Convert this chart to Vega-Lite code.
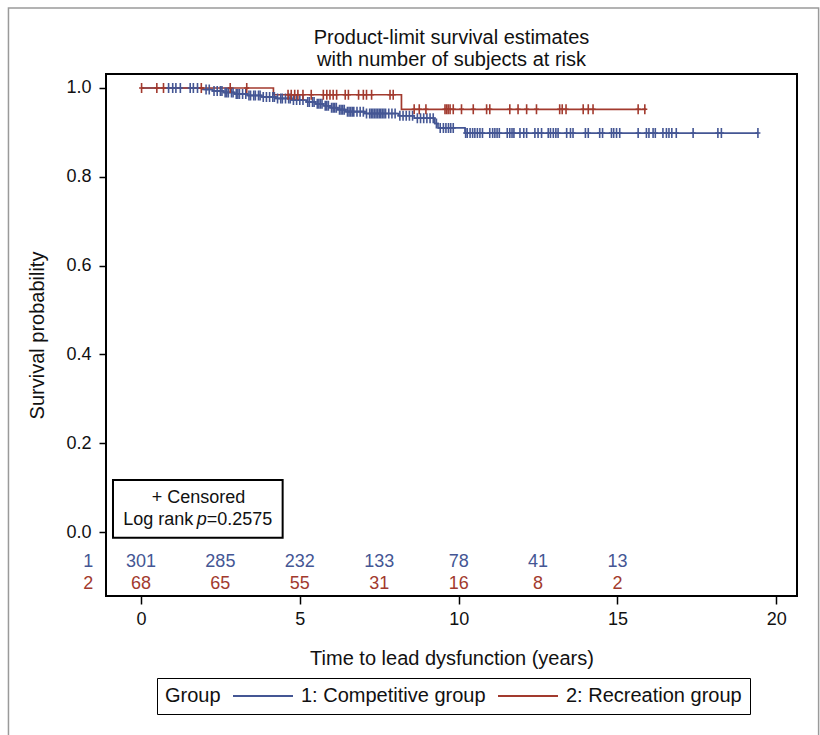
{
  "$schema": "https://vega.github.io/schema/vega-lite/v6.json",
  "width": 691,
  "height": 522,
  "autosize": "none",
  "padding": {"left": 106, "top": 74, "right": 23, "bottom": 139},
  "background": "white",
  "title": {
    "text": ["Product-limit survival estimates", "with number of subjects at risk"],
    "fontSize": 20, "fontWeight": "normal", "font": "Liberation Sans", "color": "#111",
    "offset": 6, "dy": 69, "lineHeight": 22, "anchor": "middle"
  },
  "config": {
    "view": {"stroke": "#000", "strokeWidth": 2},
    "font": "Liberation Sans",
    "axis": {"grid": false, "domain": false, "tickColor": "#000", "tickWidth": 1.5, "labelColor": "#111", "titleColor": "#111", "labelFontSize": 18, "titleFontSize": 20, "titleFontWeight": "normal", "labelFont": "Liberation Sans", "titleFont": "Liberation Sans"}
  },
  "datasets": {
    "steps": [
      {"group": "1: Competitive group", "t": 0, "s": 1},
      {"group": "1: Competitive group", "t": 1.95, "s": 0.9967},
      {"group": "1: Competitive group", "t": 2.25, "s": 0.9933},
      {"group": "1: Competitive group", "t": 2.6, "s": 0.99},
      {"group": "1: Competitive group", "t": 2.95, "s": 0.9866},
      {"group": "1: Competitive group", "t": 3.35, "s": 0.9832},
      {"group": "1: Competitive group", "t": 3.8, "s": 0.9798},
      {"group": "1: Competitive group", "t": 4.25, "s": 0.9764},
      {"group": "1: Competitive group", "t": 4.75, "s": 0.9729},
      {"group": "1: Competitive group", "t": 5.2, "s": 0.9686},
      {"group": "1: Competitive group", "t": 5.5, "s": 0.9643},
      {"group": "1: Competitive group", "t": 5.75, "s": 0.96},
      {"group": "1: Competitive group", "t": 5.95, "s": 0.9556},
      {"group": "1: Competitive group", "t": 6.2, "s": 0.9512},
      {"group": "1: Competitive group", "t": 6.45, "s": 0.9467},
      {"group": "1: Competitive group", "t": 7.05, "s": 0.9425},
      {"group": "1: Competitive group", "t": 8.1, "s": 0.9375},
      {"group": "1: Competitive group", "t": 8.6, "s": 0.932},
      {"group": "1: Competitive group", "t": 9.25, "s": 0.92},
      {"group": "1: Competitive group", "t": 9.35, "s": 0.91},
      {"group": "1: Competitive group", "t": 10.2, "s": 0.8985},
      {"group": "1: Competitive group", "t": 19.42, "s": 0.8985},
      {"group": "2: Recreation group", "t": 0, "s": 1},
      {"group": "2: Recreation group", "t": 4.17, "s": 0.9848},
      {"group": "2: Recreation group", "t": 8.2, "s": 0.952},
      {"group": "2: Recreation group", "t": 15.9, "s": 0.952}
    ],
    "censor": [
      {"g": "1", "t": 0.87, "s": 1}, {"g": "1", "t": 1.0, "s": 1}, {"g": "1", "t": 1.1, "s": 1}, {"g": "1", "t": 1.24, "s": 1}, {"g": "1", "t": 1.55, "s": 1}, {"g": "1", "t": 1.65, "s": 1}, {"g": "1", "t": 1.78, "s": 1},
      {"g": "1", "t": 2.05, "s": 0.9967}, {"g": "1", "t": 2.15, "s": 0.9967},
      {"g": "1", "t": 2.3, "s": 0.9933}, {"g": "1", "t": 2.4, "s": 0.9933}, {"g": "1", "t": 2.5, "s": 0.9933}, {"g": "1", "t": 2.55, "s": 0.9933},
      {"g": "1", "t": 2.65, "s": 0.99}, {"g": "1", "t": 2.7, "s": 0.99}, {"g": "1", "t": 2.75, "s": 0.99}, {"g": "1", "t": 2.85, "s": 0.99}, {"g": "1", "t": 2.9, "s": 0.99},
      {"g": "1", "t": 3.0, "s": 0.9866}, {"g": "1", "t": 3.05, "s": 0.9866}, {"g": "1", "t": 3.1, "s": 0.9866}, {"g": "1", "t": 3.2, "s": 0.9866}, {"g": "1", "t": 3.3, "s": 0.9866},
      {"g": "1", "t": 3.4, "s": 0.9832}, {"g": "1", "t": 3.45, "s": 0.9832}, {"g": "1", "t": 3.55, "s": 0.9832}, {"g": "1", "t": 3.6, "s": 0.9832}, {"g": "1", "t": 3.7, "s": 0.9832}, {"g": "1", "t": 3.75, "s": 0.9832},
      {"g": "1", "t": 3.85, "s": 0.9798}, {"g": "1", "t": 3.95, "s": 0.9798}, {"g": "1", "t": 4.05, "s": 0.9798}, {"g": "1", "t": 4.15, "s": 0.9798}, {"g": "1", "t": 4.2, "s": 0.9798},
      {"g": "1", "t": 4.3, "s": 0.9764}, {"g": "1", "t": 4.4, "s": 0.9764}, {"g": "1", "t": 4.45, "s": 0.9764}, {"g": "1", "t": 4.55, "s": 0.9764}, {"g": "1", "t": 4.65, "s": 0.9764}, {"g": "1", "t": 4.7, "s": 0.9764},
      {"g": "1", "t": 4.8, "s": 0.9729}, {"g": "1", "t": 4.9, "s": 0.9729}, {"g": "1", "t": 5.0, "s": 0.9729}, {"g": "1", "t": 5.1, "s": 0.9729},
      {"g": "1", "t": 5.25, "s": 0.9686}, {"g": "1", "t": 5.3, "s": 0.9686}, {"g": "1", "t": 5.4, "s": 0.9686}, {"g": "1", "t": 5.45, "s": 0.9686},
      {"g": "1", "t": 5.55, "s": 0.9643}, {"g": "1", "t": 5.6, "s": 0.9643}, {"g": "1", "t": 5.65, "s": 0.9643}, {"g": "1", "t": 5.7, "s": 0.9643},
      {"g": "1", "t": 5.8, "s": 0.96}, {"g": "1", "t": 5.85, "s": 0.96}, {"g": "1", "t": 5.9, "s": 0.96},
      {"g": "1", "t": 6.0, "s": 0.9556}, {"g": "1", "t": 6.05, "s": 0.9556}, {"g": "1", "t": 6.1, "s": 0.9556}, {"g": "1", "t": 6.15, "s": 0.9556},
      {"g": "1", "t": 6.25, "s": 0.9512}, {"g": "1", "t": 6.3, "s": 0.9512}, {"g": "1", "t": 6.35, "s": 0.9512}, {"g": "1", "t": 6.4, "s": 0.9512},
      {"g": "1", "t": 6.5, "s": 0.9467}, {"g": "1", "t": 6.55, "s": 0.9467}, {"g": "1", "t": 6.6, "s": 0.9467}, {"g": "1", "t": 6.65, "s": 0.9467}, {"g": "1", "t": 6.7, "s": 0.9467}, {"g": "1", "t": 6.8, "s": 0.9467}, {"g": "1", "t": 6.9, "s": 0.9467}, {"g": "1", "t": 7.0, "s": 0.9467},
      {"g": "1", "t": 7.1, "s": 0.9425}, {"g": "1", "t": 7.2, "s": 0.9425}, {"g": "1", "t": 7.25, "s": 0.9425}, {"g": "1", "t": 7.3, "s": 0.9425}, {"g": "1", "t": 7.35, "s": 0.9425}, {"g": "1", "t": 7.4, "s": 0.9425}, {"g": "1", "t": 7.45, "s": 0.9425}, {"g": "1", "t": 7.5, "s": 0.9425}, {"g": "1", "t": 7.55, "s": 0.9425}, {"g": "1", "t": 7.6, "s": 0.9425}, {"g": "1", "t": 7.65, "s": 0.9425}, {"g": "1", "t": 7.7, "s": 0.9425}, {"g": "1", "t": 7.8, "s": 0.9425}, {"g": "1", "t": 7.9, "s": 0.9425}, {"g": "1", "t": 8.0, "s": 0.9425},
      {"g": "1", "t": 8.15, "s": 0.9375}, {"g": "1", "t": 8.25, "s": 0.9375}, {"g": "1", "t": 8.35, "s": 0.9375}, {"g": "1", "t": 8.45, "s": 0.9375}, {"g": "1", "t": 8.55, "s": 0.9375},
      {"g": "1", "t": 8.7, "s": 0.932}, {"g": "1", "t": 8.8, "s": 0.932}, {"g": "1", "t": 8.9, "s": 0.932}, {"g": "1", "t": 9.0, "s": 0.932}, {"g": "1", "t": 9.1, "s": 0.932}, {"g": "1", "t": 9.2, "s": 0.932},
      {"g": "1", "t": 9.3, "s": 0.92},
      {"g": "1", "t": 9.42, "s": 0.91}, {"g": "1", "t": 9.52, "s": 0.91}, {"g": "1", "t": 9.6, "s": 0.91}, {"g": "1", "t": 9.68, "s": 0.91}, {"g": "1", "t": 9.75, "s": 0.91}, {"g": "1", "t": 9.83, "s": 0.91},
      {"g": "1", "t": 10.22, "s": 0.8985}, {"g": "1", "t": 10.27, "s": 0.8985}, {"g": "1", "t": 10.36, "s": 0.8985}, {"g": "1", "t": 10.44, "s": 0.8985}, {"g": "1", "t": 10.51, "s": 0.8985}, {"g": "1", "t": 10.59, "s": 0.8985}, {"g": "1", "t": 10.67, "s": 0.8985}, {"g": "1", "t": 10.75, "s": 0.8985}, {"g": "1", "t": 10.98, "s": 0.8985}, {"g": "1", "t": 11.07, "s": 0.8985}, {"g": "1", "t": 11.14, "s": 0.8985}, {"g": "1", "t": 11.21, "s": 0.8985}, {"g": "1", "t": 11.28, "s": 0.8985}, {"g": "1", "t": 11.53, "s": 0.8985}, {"g": "1", "t": 11.61, "s": 0.8985}, {"g": "1", "t": 11.68, "s": 0.8985}, {"g": "1", "t": 11.74, "s": 0.8985}, {"g": "1", "t": 11.93, "s": 0.8985}, {"g": "1", "t": 12.05, "s": 0.8985}, {"g": "1", "t": 12.14, "s": 0.8985}, {"g": "1", "t": 12.4, "s": 0.8985}, {"g": "1", "t": 12.5, "s": 0.8985}, {"g": "1", "t": 12.61, "s": 0.8985}, {"g": "1", "t": 12.82, "s": 0.8985}, {"g": "1", "t": 12.89, "s": 0.8985}, {"g": "1", "t": 12.98, "s": 0.8985}, {"g": "1", "t": 13.06, "s": 0.8985}, {"g": "1", "t": 13.13, "s": 0.8985}, {"g": "1", "t": 13.4, "s": 0.8985}, {"g": "1", "t": 13.52, "s": 0.8985}, {"g": "1", "t": 13.6, "s": 0.8985}, {"g": "1", "t": 13.99, "s": 0.8985}, {"g": "1", "t": 14.08, "s": 0.8985}, {"g": "1", "t": 14.44, "s": 0.8985}, {"g": "1", "t": 14.53, "s": 0.8985}, {"g": "1", "t": 14.81, "s": 0.8985}, {"g": "1", "t": 14.88, "s": 0.8985}, {"g": "1", "t": 14.97, "s": 0.8985}, {"g": "1", "t": 15.07, "s": 0.8985}, {"g": "1", "t": 15.65, "s": 0.8985}, {"g": "1", "t": 15.91, "s": 0.8985}, {"g": "1", "t": 15.99, "s": 0.8985}, {"g": "1", "t": 16.12, "s": 0.8985}, {"g": "1", "t": 16.19, "s": 0.8985}, {"g": "1", "t": 16.43, "s": 0.8985}, {"g": "1", "t": 16.54, "s": 0.8985}, {"g": "1", "t": 16.62, "s": 0.8985}, {"g": "1", "t": 16.71, "s": 0.8985}, {"g": "1", "t": 16.85, "s": 0.8985}, {"g": "1", "t": 17.38, "s": 0.8985}, {"g": "1", "t": 18.16, "s": 0.8985}, {"g": "1", "t": 18.27, "s": 0.8985}, {"g": "1", "t": 19.42, "s": 0.8985},
      {"g": "2", "t": 0.02, "s": 1}, {"g": "2", "t": 0.5, "s": 1}, {"g": "2", "t": 0.71, "s": 1}, {"g": "2", "t": 1.9, "s": 1}, {"g": "2", "t": 2.81, "s": 1}, {"g": "2", "t": 3.33, "s": 1},
      {"g": "2", "t": 4.63, "s": 0.9848}, {"g": "2", "t": 4.73, "s": 0.9848}, {"g": "2", "t": 4.84, "s": 0.9848}, {"g": "2", "t": 4.94, "s": 0.9848}, {"g": "2", "t": 5.1, "s": 0.9848}, {"g": "2", "t": 5.36, "s": 0.9848}, {"g": "2", "t": 5.74, "s": 0.9848}, {"g": "2", "t": 5.85, "s": 0.9848}, {"g": "2", "t": 5.95, "s": 0.9848}, {"g": "2", "t": 6.05, "s": 0.9848}, {"g": "2", "t": 6.16, "s": 0.9848}, {"g": "2", "t": 6.43, "s": 0.9848}, {"g": "2", "t": 6.53, "s": 0.9848}, {"g": "2", "t": 6.85, "s": 0.9848}, {"g": "2", "t": 7.0, "s": 0.9848}, {"g": "2", "t": 7.1, "s": 0.9848}, {"g": "2", "t": 7.26, "s": 0.9848}, {"g": "2", "t": 7.84, "s": 0.9848}, {"g": "2", "t": 7.94, "s": 0.9848},
      {"g": "2", "t": 8.6, "s": 0.952}, {"g": "2", "t": 8.76, "s": 0.952}, {"g": "2", "t": 8.97, "s": 0.952}, {"g": "2", "t": 9.57, "s": 0.952}, {"g": "2", "t": 9.62, "s": 0.952}, {"g": "2", "t": 9.67, "s": 0.952}, {"g": "2", "t": 9.73, "s": 0.952}, {"g": "2", "t": 9.83, "s": 0.952}, {"g": "2", "t": 10.09, "s": 0.952}, {"g": "2", "t": 10.46, "s": 0.952}, {"g": "2", "t": 10.88, "s": 0.952}, {"g": "2", "t": 10.98, "s": 0.952}, {"g": "2", "t": 11.61, "s": 0.952}, {"g": "2", "t": 11.87, "s": 0.952}, {"g": "2", "t": 12.14, "s": 0.952}, {"g": "2", "t": 12.45, "s": 0.952}, {"g": "2", "t": 13.18, "s": 0.952}, {"g": "2", "t": 13.26, "s": 0.952}, {"g": "2", "t": 13.38, "s": 0.952}, {"g": "2", "t": 13.92, "s": 0.952}, {"g": "2", "t": 14.08, "s": 0.952}, {"g": "2", "t": 14.23, "s": 0.952}, {"g": "2", "t": 15.65, "s": 0.952}, {"g": "2", "t": 15.86, "s": 0.952}
    ],
    "risk": [
      {"g": "1", "t": 0, "n": 301}, {"g": "1", "t": 2.5, "n": 285}, {"g": "1", "t": 5, "n": 232}, {"g": "1", "t": 7.5, "n": 133}, {"g": "1", "t": 10, "n": 78}, {"g": "1", "t": 12.5, "n": 41}, {"g": "1", "t": 15, "n": 13},
      {"g": "2", "t": 0, "n": 68}, {"g": "2", "t": 2.5, "n": 65}, {"g": "2", "t": 5, "n": 55}, {"g": "2", "t": 7.5, "n": 31}, {"g": "2", "t": 10, "n": 16}, {"g": "2", "t": 12.5, "n": 8}, {"g": "2", "t": 15, "n": 2}
    ]
  },
  "layer": [
    {
      "data": {"values": [{}]},
      "mark": {"type": "rect", "fill": null, "stroke": "#9a9a9a", "strokeWidth": 1.5},
      "encoding": {
        "x": {"datum": -4.17, "type": "quantitative", "scale": {"domain": [-1.1, 20.65], "nice": false, "zero": false}},
        "x2": {"datum": 21.33},
        "y": {"datum": 1.18, "type": "quantitative", "scale": {"domain": [-0.1441, 1.0315], "nice": false, "zero": false}},
        "y2": {"datum": -0.5}
      }
    },
    {
      "data": {"values": [{}]},
      "mark": {"type": "rect", "fill": "white", "stroke": "#000", "strokeWidth": 2},
      "encoding": {
        "x": {"datum": -0.88, "type": "quantitative"},
        "x2": {"datum": 4.46},
        "y": {"datum": 0.1171, "type": "quantitative"},
        "y2": {"datum": -0.0128}
      }
    },
    {
      "data": {"name": "steps"},
      "mark": {"type": "line", "interpolate": "step-after", "strokeWidth": 1.7},
      "encoding": {
        "x": {"field": "t", "type": "quantitative",
          "axis": {"values": [0, 5, 10, 15, 20], "title": "Time to lead dysfunction (years)", "tickSize": 8, "labelPadding": 6, "titlePadding": 20}},
        "y": {"field": "s", "type": "quantitative",
          "axis": {"values": [0, 0.2, 0.4, 0.6, 0.8, 1.0], "format": ".1f", "title": "Survival probability", "tickSize": 7, "labelPadding": 8, "titlePadding": 18}},
        "color": {"field": "group", "type": "nominal",
          "scale": {"domain": ["1: Competitive group", "2: Recreation group"], "range": ["#445694", "#A23A2E"]},
          "legend": {"orient": "none", "legendX": 51, "legendY": 604, "direction": "horizontal", "title": "Group", "titleOrient": "left",
            "strokeColor": "#000", "fillColor": "white", "padding": 8, "labelFontSize": 20, "titleFontSize": 20, "titleFontWeight": "normal",
            "labelColor": "#111", "titleColor": "#111", "symbolType": "M-6,0H6", "symbolSize": 100, "symbolStrokeWidth": 2,
            "symbolOffset": 20, "columnPadding": 8, "labelOffset": 28, "titlePadding": 12, "labelLimit": 400, "titleAnchor": "middle", "titleBaseline": "middle"}
        }
      }
    },
    {
      "data": {"name": "censor"},
      "mark": {"type": "point", "shape": "M0,-1V1M-0.5,0H0.5", "filled": false, "size": 100, "strokeWidth": 1.6, "opacity": 1},
      "encoding": {
        "x": {"field": "t", "type": "quantitative"},
        "y": {"field": "s", "type": "quantitative"},
        "stroke": {"field": "g", "type": "nominal", "scale": {"domain": ["1", "2"], "range": ["#445694", "#A23A2E"]}, "legend": null}
      }
    },
    {
      "data": {"name": "risk"},
      "transform": [{"filter": "datum.g == '1'"}],
      "mark": {"type": "text", "fontSize": 18, "align": "center", "baseline": "middle", "color": "#445694"},
      "encoding": {
        "x": {"field": "t", "type": "quantitative"},
        "y": {"datum": -0.0676, "type": "quantitative"},
        "text": {"field": "n"}
      }
    },
    {
      "data": {"name": "risk"},
      "transform": [{"filter": "datum.g == '2'"}],
      "mark": {"type": "text", "fontSize": 18, "align": "center", "baseline": "middle", "color": "#A23A2E"},
      "encoding": {
        "x": {"field": "t", "type": "quantitative"},
        "y": {"datum": -0.1171, "type": "quantitative"},
        "text": {"field": "n"}
      }
    },
    {
      "data": {"values": [{}]},
      "mark": {"type": "text", "fontSize": 18, "align": "center", "baseline": "middle", "color": "#445694"},
      "encoding": {"x": {"datum": -1.66, "type": "quantitative"}, "y": {"datum": -0.0676, "type": "quantitative"}, "text": {"value": "1"}}
    },
    {
      "data": {"values": [{}]},
      "mark": {"type": "text", "fontSize": 18, "align": "center", "baseline": "middle", "color": "#A23A2E"},
      "encoding": {"x": {"datum": -1.66, "type": "quantitative"}, "y": {"datum": -0.1171, "type": "quantitative"}, "text": {"value": "2"}}
    },
    {
      "data": {"values": [{}]},
      "mark": {"type": "text", "fontSize": 18, "align": "center", "baseline": "middle", "color": "#111"},
      "encoding": {"x": {"datum": 1.81, "type": "quantitative"}, "y": {"datum": 0.0759, "type": "quantitative"}, "text": {"value": "+ Censored"}}
    },
    {
      "data": {"values": [{}]},
      "mark": {"type": "text", "fontSize": 18, "align": "left", "baseline": "middle", "color": "#111"},
      "encoding": {"x": {"datum": -0.56, "type": "quantitative"}, "y": {"datum": 0.027, "type": "quantitative"}, "text": {"value": "Log rank"}}
    },
    {
      "data": {"values": [{}]},
      "mark": {"type": "text", "fontSize": 18, "fontStyle": "italic", "align": "left", "baseline": "middle", "color": "#111"},
      "encoding": {"x": {"datum": 1.755, "type": "quantitative"}, "y": {"datum": 0.027, "type": "quantitative"}, "text": {"value": "p"}}
    },
    {
      "data": {"values": [{}]},
      "mark": {"type": "text", "fontSize": 18, "align": "left", "baseline": "middle", "color": "#111"},
      "encoding": {"x": {"datum": 2.07, "type": "quantitative"}, "y": {"datum": 0.027, "type": "quantitative"}, "text": {"value": "=0.2575"}}
    }
  ]
}
